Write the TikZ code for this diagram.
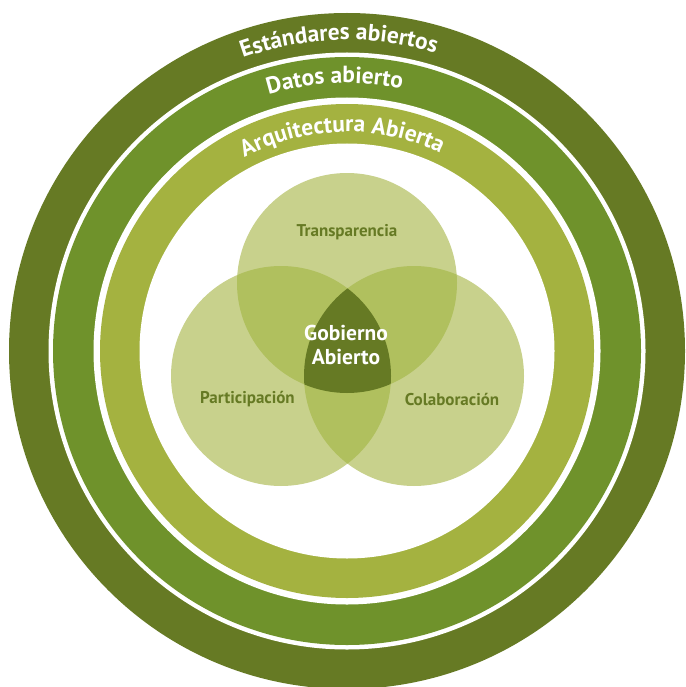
\documentclass[tikz,border=0pt]{standalone}
\usepackage{fontspec}
\setmainfont{PT Sans}
\usetikzlibrary{decorations.text,calc}
\definecolor{ringdark}{HTML}{667A24}
\definecolor{ringmid}{HTML}{6F922B}
\definecolor{ringlight}{HTML}{A4B240}
\definecolor{vennone}{HTML}{C8D18C}
\definecolor{venntwo}{HTML}{B0C05E}
\definecolor{vennthree}{HTML}{667A24}
\definecolor{labelcol}{HTML}{667A24}
\newcommand{\ringfont}{\fontsize{23.4}{23.4}\selectfont\bfseries}
\tikzset{
  ringtext/.style={decorate, decoration={text along path, text align=center, text color=white, text={#1}}},
  vennlabel/.style={text=labelcol, font=\fontsize{17}{17}\selectfont\bfseries, inner sep=0pt},
  centerlabel/.style={text=white, font=\fontsize{21.5}{24.5}\selectfont\bfseries, align=center, inner sep=0pt}
}
\begin{document}
\begin{tikzpicture}[x=1pt,y=1pt]
\useasboundingbox (0,0) rectangle (685,-687);
\fill[white] (0,0) rectangle (685,-687);
\coordinate (c) at (347,-351);
% rings
\fill[ringdark] (c) circle[radius=338];
\fill[white] (c) circle[radius=298.5];
\fill[ringmid] (c) circle[radius=294];
\fill[white] (c) circle[radius=253.5];
\fill[ringlight] (c) circle[radius=247];
\fill[white] (c) circle[radius=207.5];
% ring texts
\path[ringtext={|\ringfont|Estándares abiertos}] ($(c)+(161.5:311)$) arc[start angle=161.5,end angle=21.5,radius=311];
\path[ringtext={|\ringfont|Datos abierto}] ($(c)+(162.6:268)$) arc[start angle=162.6,end angle=22.6,radius=268];
\path[ringtext={|\ringfont|Arquitectura Abierta}] ($(c)+(161.3:219)$) arc[start angle=161.3,end angle=21.3,radius=219];
% venn
\coordinate (cT) at (347,-283);
\coordinate (cL) at (281,-376);
\coordinate (cR) at (414,-376);
\fill[vennone] (cT) circle[radius=110];
\fill[vennone] (cL) circle[radius=110];
\fill[vennone] (cR) circle[radius=110];
\begin{scope}
  \clip (cT) circle[radius=110];
  \fill[venntwo] (cL) circle[radius=110];
  \fill[venntwo] (cR) circle[radius=110];
\end{scope}
\begin{scope}
  \clip (cL) circle[radius=110];
  \fill[venntwo] (cR) circle[radius=110];
\end{scope}
\begin{scope}
  \clip (cT) circle[radius=110];
  \clip (cL) circle[radius=110];
  \fill[vennthree] (cR) circle[radius=110];
\end{scope}
\node[vennlabel] (trans) at (347,-232) {Transparencia};
\node[vennlabel] (part) at (247.5,-399) {Participación};
\node[vennlabel] (colab) at (452,-399) {Colaboración};
\node[centerlabel] (gob) at (346,-345) {Gobierno\\Abierto};
\end{tikzpicture}
\end{document}
